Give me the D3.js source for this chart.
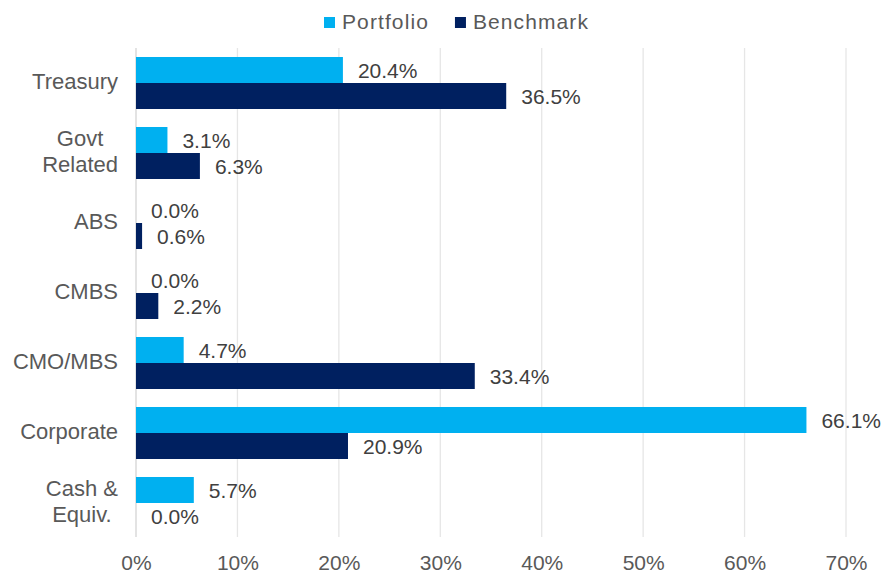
<!DOCTYPE html>
<html>
<head>
<meta charset="utf-8">
<script src="https://cdn.jsdelivr.net/npm/d3@7"></script>
<style>
  body { margin: 0; background: #fff; }
  svg text { font-family: "Liberation Sans", Arial, sans-serif; }
</style>
</head>
<body>
<div id="chart"></div>
<script>
// sector allocation data
var categories = ["Treasury", "Govt Related", "ABS", "CMBS", "CMO/MBS", "Corporate", "Cash & Equiv."];
var categoryLines = [["Treasury"], ["Govt", "Related"], ["ABS"], ["CMBS"], ["CMO/MBS"], ["Corporate"], ["Cash &", "Equiv."]];
var portfolio = [20.4, 3.1, 0.0, 0.0, 4.7, 66.1, 5.7];
var benchmark = [36.5, 6.3, 0.6, 2.2, 33.4, 20.9, 0.0];
var seriesNames = ["Portfolio", "Benchmark"];
var xTicks = [0, 10, 20, 30, 40, 50, 60, 70];

var width = 881, height = 573;
var colors = ["#00b0f0", "#002060"];

var svg = d3.select("#chart").append("svg")
    .attr("width", width)
    .attr("height", height);

var x = d3.scaleLinear().domain([0, 70]).range([136, 846]);

var y = d3.scaleBand()
    .domain(categories)
    .range([48, 538])
    .paddingInner(0.257)
    .paddingOuter(0.1285);

var sub = d3.scaleBand()
    .domain(seriesNames)
    .range([0, y.bandwidth()]);

// gridlines
svg.append("g")
    .selectAll("line")
    .data(xTicks)
    .enter()
    .append("line")
    .attr("x1", function(d) { return x(d); })
    .attr("x2", function(d) { return x(d); })
    .attr("y1", 48)
    .attr("y2", 537)
    .style("stroke", function(d) { return d === 0 ? "#d4d4d4" : "#e6e6e6"; })
    .style("stroke-width", 1.3);

// x axis labels
var xAxis = svg.append("g")
    .attr("transform", "translate(0,570)")
    .call(d3.axisBottom(x).tickValues(xTicks).tickSize(0).tickPadding(0).tickFormat(function(d) { return d + "%"; }));
xAxis.select(".domain").remove();
xAxis.selectAll("text")
    .attr("dy", 0)
    .style("font-size", "21px")
    .style("font-family", "'Liberation Sans', Arial, sans-serif")
    .style("fill", "#595959");

// bars
var rows = categories.map(function(c, i) {
    return { cat: c, values: [portfolio[i], benchmark[i]] };
});

var groups = svg.append("g")
    .selectAll("g")
    .data(rows)
    .enter()
    .append("g")
    .attr("transform", function(d) { return "translate(0," + y(d.cat) + ")"; });

groups.selectAll("rect")
    .data(function(d) { return d.values.map(function(v, j) { return { key: seriesNames[j], v: v, j: j }; }); })
    .enter()
    .append("rect")
    .attr("x", x(0))
    .attr("y", function(d) { return sub(d.key); })
    .attr("width", function(d) { return x(d.v) - x(0); })
    .attr("height", sub.bandwidth())
    .style("fill", function(d) { return colors[d.j]; });

// value labels
groups.selectAll("text")
    .data(function(d) { return d.values.map(function(v, j) { return { key: seriesNames[j], v: v, j: j }; }); })
    .enter()
    .append("text")
    .attr("x", function(d) { return x(d.v) + 15; })
    .attr("y", function(d) { return sub(d.key) + sub.bandwidth() / 2 + 8; })
    .style("font-size", "21px")
    .style("fill", "#404040")
    .text(function(d) { return d.v.toFixed(1) + "%"; });

// category labels, multi-line blocks right aligned with centred lines
var labelRight = 118;
categories.forEach(function(c, i) {
    var lines = categoryLines[i];
    var cy = y(c) + y.bandwidth() / 2 + 6;
    var g = svg.append("g");
    var texts = lines.map(function(t, k) {
        return g.append("text")
            .attr("y", cy + (k - (lines.length - 1) / 2) * 25.7)
            .style("font-size", "22px")
            .style("fill", "#595959")
            .text(t);
    });
    var maxW = d3.max(texts, function(t) { return t.node().getComputedTextLength(); });
    texts.forEach(function(t) {
        t.attr("x", labelRight - maxW / 2).attr("text-anchor", "middle");
    });
});

// legend
var legend = svg.append("g");
var lx = 324;
seriesNames.forEach(function(name, i) {
    legend.append("rect")
        .attr("x", lx)
        .attr("y", 17)
        .attr("width", 11)
        .attr("height", 11)
        .style("fill", colors[i]);
    var t = legend.append("text")
        .attr("x", lx + 18)
        .attr("y", 29)
        .style("font-size", "21px")
        .style("letter-spacing", "1.1px")
        .style("fill", "#595959")
        .text(name);
    lx += 18 + t.node().getComputedTextLength() + 26;
});
</script>
</body>
</html>
